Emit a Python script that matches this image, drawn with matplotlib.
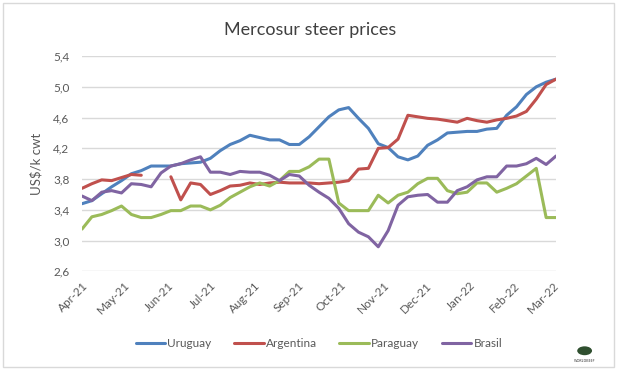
import numpy as np
import pandas as pd
import matplotlib
matplotlib.use('Agg')
import matplotlib.pyplot as plt
import matplotlib.dates as mdates
from matplotlib.ticker import FuncFormatter
from matplotlib.patches import Rectangle, Circle

plt.rcParams['font.family'] = ['Lato', 'DejaVu Sans']

# weekly observations, Apr-21 to Mar-22
weeks = pd.date_range('2021-04-01', periods=49, freq='7D')

uruguay = [3.48, 3.52, 3.61, 3.70, 3.78, 3.87, 3.91, 3.97, 3.97, 3.97,
           4.00, 4.01, 4.02, 4.07, 4.17, 4.25, 4.30, 4.37, 4.34, 4.31,
           4.31, 4.25, 4.25, 4.35, 4.48, 4.61, 4.70, 4.73, 4.59, 4.46,
           4.26, 4.21, 4.09, 4.05, 4.10, 4.24, 4.31, 4.40, 4.41, 4.42,
           4.42, 4.45, 4.46, 4.63, 4.74, 4.90, 5.00, 5.06, 5.10]

argentina = [3.68, 3.74, 3.79, 3.78, 3.82, 3.86, 3.85, np.nan, np.nan, 3.83,
             3.53, 3.75, 3.73, 3.60, 3.65, 3.71, 3.72, 3.75, 3.73, 3.75,
             3.76, 3.75, 3.75, 3.75, 3.74, 3.75, 3.76, 3.78, 3.93, 3.94,
             4.20, 4.21, 4.32, 4.63, 4.61, 4.59, 4.58, 4.56, 4.54, 4.59,
             4.56, 4.54, 4.57, 4.59, 4.62, 4.68, 4.84, 5.03, 5.10]

paraguay = [3.15, 3.31, 3.34, 3.39, 3.45, 3.34, 3.30, 3.30, 3.34, 3.39,
            3.39, 3.45, 3.45, 3.40, 3.46, 3.56, 3.63, 3.70, 3.75, 3.71,
            3.78, 3.90, 3.90, 3.96, 4.06, 4.06, 3.49, 3.39, 3.39, 3.39,
            3.59, 3.49, 3.59, 3.63, 3.74, 3.81, 3.81, 3.65, 3.61, 3.63,
            3.75, 3.75, 3.63, 3.68, 3.74, 3.84, 3.94, 3.30, 3.30]

brasil = [3.58, 3.52, 3.63, 3.65, 3.62, 3.74, 3.73, 3.70, 3.88, 3.97,
          4.00, 4.05, 4.09, 3.89, 3.89, 3.86, 3.90, 3.89, 3.89, 3.85,
          3.78, 3.86, 3.84, 3.72, 3.63, 3.55, 3.42, 3.22, 3.11, 3.05,
          2.92, 3.13, 3.46, 3.57, 3.59, 3.60, 3.50, 3.50, 3.65, 3.70,
          3.79, 3.83, 3.83, 3.97, 3.97, 4.00, 4.07, 3.99, 4.10]

yticks = [2.6, 3.0, 3.4, 3.8, 4.2, 4.6, 5.0, 5.4]

series = [('Uruguay', uruguay, '#4F81BD'),
          ('Argentina', argentina, '#C0504D'),
          ('Paraguay', paraguay, '#9BBB59'),
          ('Brasil', brasil, '#8064A2')]

fig = plt.figure(figsize=(6.18, 3.70), dpi=100)
ax = fig.add_axes([0.1327, 0.2665, 0.767, 0.582])

for name, vals, col in series:
    ax.plot(weeks, vals, color=col, lw=2.2, label=name, solid_capstyle='round')

ax.set_ylim(2.6, 5.4)
ax.set_xlim(weeks[0], weeks[-1])
ax.set_yticks(yticks)
ax.yaxis.set_major_formatter(FuncFormatter(lambda v, p: f'{v:.1f}'.replace('.', ',')))
ax.xaxis.set_major_locator(mdates.MonthLocator())
ax.xaxis.set_major_formatter(mdates.DateFormatter('%b-%y'))

ax.grid(axis='y', color='#D9D9D9', lw=1)
ax.set_axisbelow(True)
for s in ax.spines.values():
    s.set_visible(False)
ax.tick_params(axis='both', length=0, labelsize=8.5, colors='#595959')
ax.tick_params(axis='y', pad=9)
ax.tick_params(axis='x', pad=6)
for lab in ax.get_xticklabels():
    lab.set_rotation(45)
    lab.set_ha('right')
    lab.set_rotation_mode('anchor')

ax.set_ylabel('US$/k cwt', fontsize=9.5, color='#595959', labelpad=8)
fig.text(0.502, 0.918, 'Mercosur steer prices', ha='center', va='center',
         fontsize=13, color='#404040')

ax.legend(loc='center', bbox_to_anchor=(0.5, -0.335), ncol=4, frameon=False,
          fontsize=8.5, handlelength=2.5, handletextpad=0.2, columnspacing=1.9,
          labelcolor='#595959')

# chart area border
fig.patches.append(Rectangle((0.005, 0.008), 0.989, 0.984, transform=fig.transFigure,
                             fill=False, ec='#D9D9D9', lw=1))

# small logo mark
fig.patches.append(Circle((0.946, 0.052), 0.012, transform=fig.transFigure,
                          fc='#2F4F2F', ec='none'))
fig.text(0.946, 0.025, 'WORLDBEEF', ha='center', va='center', fontsize=2.5,
         color='#333333')

fig.savefig('out.png', dpi=100)
